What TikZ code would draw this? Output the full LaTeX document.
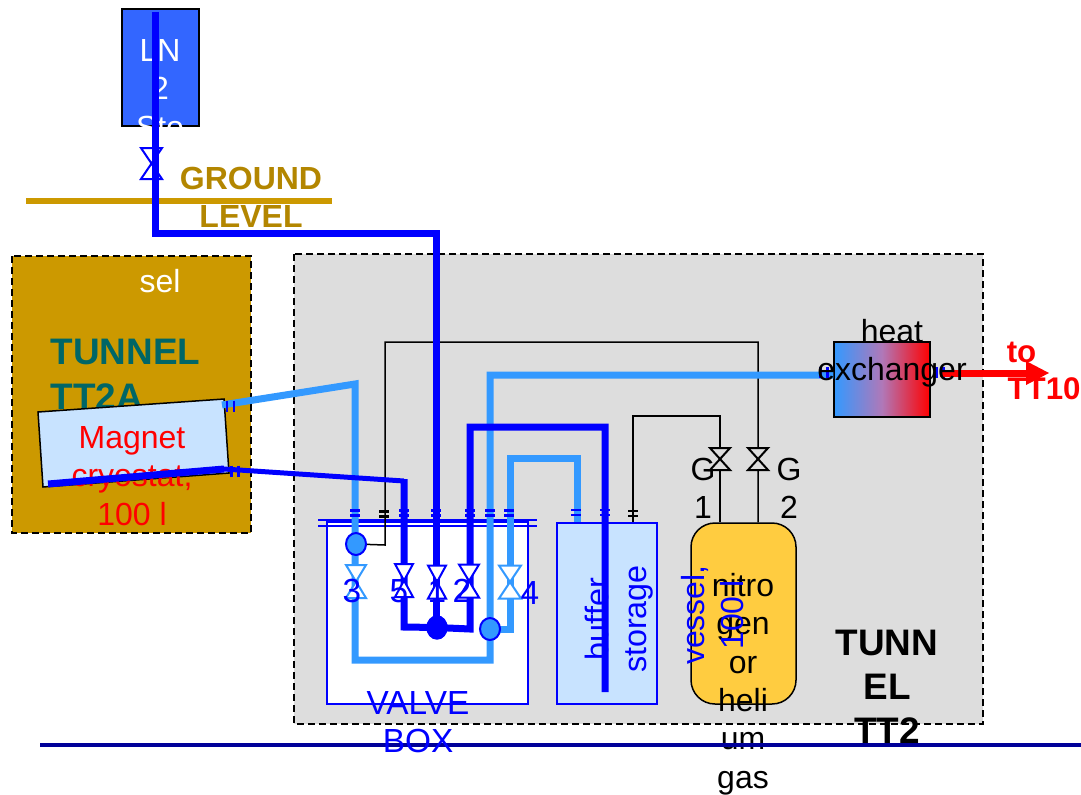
\documentclass[tikz,border=0pt]{standalone}
\usepackage{fontspec}
\setmainfont{Liberation Sans}
\usetikzlibrary{calc, shapes.geometric}
\definecolor{pipedark}{HTML}{0000FF}
\definecolor{pipelight}{HTML}{3399FF}
\definecolor{groundtan}{HTML}{CC9900}
\definecolor{groundtext}{HTML}{B38600}
\definecolor{tunnelgrey}{HTML}{DDDDDD}
\definecolor{tunnelteal}{HTML}{006666}
\definecolor{paleblue}{HTML}{C8E3FF}
\definecolor{vesselyellow}{HTML}{FFCC40}
\definecolor{storeblue}{HTML}{3366FF}
\definecolor{linenavy}{HTML}{000099}
\definecolor{hxmiddle}{HTML}{B078B8}
\tikzset{
    label30/.style={font=\fontsize{9.1}{10.9}\selectfont, align=center, inner sep=0},
    label33/.style={font=\fontsize{9.5}{10.9}\selectfont, align=center, inner sep=0},
    bold30/.style={font=\fontsize{9.1}{10.9}\selectfont\bfseries, align=center, inner sep=0},
    boldred/.style={font=\fontsize{8.9}{10.9}\selectfont\bfseries, text=red, inner sep=0},
    bold36/.style={font=\fontsize{10.5}{12.6}\selectfont\bfseries, inner sep=0},
    pipeD/.style={draw=pipedark, line width=0.07cm, line join=miter},
    pipeL/.style={draw=pipelight, line width=0.07cm, line join=miter},
    thinline/.style={draw=black, line width=0.015cm},
    dashbox/.style={draw=black, line width=0.014cm, dash pattern=on 0.07cm off 0.04cm},
    bluebox/.style={draw=pipedark, line width=0.018cm, inner sep=0},
    jointL/.style={draw=pipedark, line width=0.02cm, fill=pipelight, ellipse, minimum width=0.2cm, minimum height=0.22cm, inner sep=0},
    jointD/.style={draw=pipedark, fill=pipedark, ellipse, minimum width=0.2cm, minimum height=0.23cm, inner sep=0},
}
% valve: x, y, half width, half height, options
\newcommand{\valve}[5]{
    \filldraw [#5, line width=0.02cm] (#1-#3,#2-#4) -- (#1+#3,#2-#4) -- (#1-#3,#2+#4) -- (#1+#3,#2+#4) -- cycle;
}
% flange marks over a pipe, across or along
\newcommand{\flange}[3]{
    \draw [#3, line width=0.024cm] (#1-0.05,#2-0.025) -- (#1+0.05,#2-0.025) (#1-0.05,#2+0.025) -- (#1+0.05,#2+0.025);
}
\newcommand{\flangeup}[3]{
    \draw [draw=pipedark, line width=0.024cm] (#1-0.035,#2-#3) -- (#1-0.035,#2+#3) (#1+0.035,#2-#3) -- (#1+0.035,#2+#3);
}
\begin{document}
\begin{tikzpicture}[y=-1cm]
    \useasboundingbox (0,0) rectangle (10.81,7.94);
    % tunnels
    \filldraw [dashbox, fill=groundtan] (0.12,2.56) rectangle (2.51,5.33);
    \filldraw [dashbox, fill=tunnelgrey] (2.94,2.54) rectangle (9.83,7.24);
    \node [label30, text=white] (sel) at (1.60,2.81) {sel};
    \node [bold36, text=tunnelteal, anchor=west] (tta) at (0.50,3.52) {TUNNEL};
    \node [bold36, text=tunnelteal, anchor=west] (ttb) at (0.50,3.97) {TT2A};
    % storage on the surface
    \node [draw=black, line width=0.015cm, fill=storeblue, minimum width=0.77cm, minimum height=1.17cm, inner sep=0] (store) at (1.605,0.675) {};
    \begin{scope}
        \clip (store.south west) rectangle (store.north east);
        \node [label30, text=white] (storetext) at (1.60,0.89) {LN\\2\\Sto};
    \end{scope}
    \coordinate (gl) at (0.26,2.01);
    \coordinate (gr) at (3.32,2.01);
    \draw [draw=groundtan, line width=0.06cm] (gl) -- (gr);
    \node [bold30, text=groundtext] (ground) at (2.51,1.97) {GROUND\\LEVEL};
    \valve{1.515}{1.635}{0.105}{0.155}{draw=pipedark, fill=none}
    % cryostat
    \filldraw [draw=black, line width=0.015cm, fill=paleblue] (0.38,4.12) coordinate (ca) -- (2.24,3.99) coordinate (cb) -- (2.29,4.73) coordinate (cc) -- (0.43,4.87) coordinate (cd) -- cycle;
    \node [label30, text=red] (magnet) at (1.32,4.76) {Magnet\\cryostat,\\100 l};
    % boxes
    \node [bluebox, fill=white, minimum width=2.01cm, minimum height=1.82cm] (valvecase) at (4.275,6.13) {};
    \draw [draw=pipedark, line width=0.02cm] (3.18,5.20) -- (5.37,5.20) (3.18,5.26) -- (5.37,5.26);
    \node [bluebox, fill=paleblue, minimum width=1.00cm, minimum height=1.81cm] (buffercase) at (6.07,6.135) {};
    \node [label30, text=pipedark, rotate=90, font=\fontsize{9.2}{10.9}\selectfont] (buffer) at (6.19,6.19) {buffer\\storage};
    \node [draw=black, line width=0.015cm, fill=vesselyellow, rounded corners=0.24cm, minimum width=1.05cm, minimum height=1.81cm, inner sep=0] (vessel) at (7.435,6.135) {};
    \node [draw=black, line width=0.015cm, left color=pipelight, right color=red, middle color=hxmiddle, minimum width=0.96cm, minimum height=0.75cm, inner sep=0] (hx) at (8.82,3.795) {};
    % joints of the pipes
    \coordinate (jthree) at (3.56,5.44);
    \coordinate (jone) at (4.37,6.275);
    \coordinate (jfour) at (4.90,6.29);
    \coordinate (jcorner) at (3.55,3.84);
    % thin gas lines
    \draw [thinline] (jthree) -- (3.85,5.45) -- (3.85,3.42) -- (7.58,3.42) -- (vessel.north -| 7.58,0);
    \draw [thinline] (buffercase.north -| 6.33,0) -- (6.33,4.16) -- (7.20,4.16) -- (vessel.north -| 7.20,0);
    \valve{7.20}{4.59}{0.10}{0.11}{draw=black, fill=tunnelgrey}
    \valve{7.58}{4.59}{0.10}{0.11}{draw=black, fill=tunnelgrey}
    % light pipes
    \draw [pipeL] (2.22,4.05) -- (jcorner) -- (3.55,6.60) -- (4.90,6.60) -- (4.90,3.75) -- (hx.west |- 0,3.75);
    \draw [pipeL] (jfour) -- (5.10,6.29) -- (5.10,4.58) -- (5.77,4.58) -- (5.77,5.22);
    % dark pipes
    \draw [pipeD] (0.48,4.84) -- (2.24,4.69);
    \draw [draw=pipedark, line width=0.05cm] (2.24,4.69) -- (4.04,4.81);
    \draw [pipeD] (4.04,4.79) -- (4.04,6.27) -- (jone) -- (4.70,6.29) -- (4.70,4.27) -- (6.05,4.27) -- (6.05,6.92);
    \draw [pipeD] (1.55,0.12) -- (1.55,2.33) -- (4.36,2.33) -- (jone -| 4.36,0);
    % valves in the box
    \valve{3.56}{5.815}{0.10}{0.165}{draw=pipelight, fill=white}
    \valve{4.04}{5.805}{0.09}{0.165}{draw=pipedark, fill=white}
    \valve{4.37}{5.82}{0.09}{0.165}{draw=pipedark, fill=white}
    \valve{4.69}{5.81}{0.10}{0.165}{draw=pipedark, fill=white}
    \valve{5.10}{5.82}{0.11}{0.165}{draw=pipelight, fill=white}
    % joints
    \node [jointL] (nodethree) at (jthree) {};
    \node [jointD] (nodeone) at (jone) {};
    \node [jointL] (nodefour) at (jfour) {};
    % flanges
    \foreach \fx in {3.55,4.04,4.36,4.70,4.90,5.09}
        \flange{\fx}{5.13}{pipedark};
    \flange{3.84}{5.14}{black}
    \flange{5.76}{5.125}{pipedark}
    \flange{6.05}{5.125}{pipedark}
    \flange{6.33}{5.135}{black}
    \flangeup{2.305}{4.06}{0.055}
    \flangeup{2.35}{4.71}{0.055}
    \flangeup{8.24}{3.725}{0.055}
    \flangeup{9.40}{3.725}{0.055}
    % valve numbers
    \node [label33, text=pipedark] (nthree) at (3.52,5.91) {3};
    \node [label33, text=pipedark] (nfive) at (3.99,5.91) {5};
    \node [label33, text=pipedark] (none) at (4.37,5.91) {1};
    \node [label33, text=pipedark] (ntwo) at (4.62,5.91) {2};
    \node [label33, text=pipedark] (nfour) at (5.30,5.93) {4};
    % vessel text
    \node [label30] (vesseltext) at (7.43,6.84) {nitro\\gen\\or\\heli\\um\\gas};
    \node [label30, text=pipedark, rotate=90] (vesselcap) at (7.125,6.15) {vessel,\\100 l};
    \node [label30] (gone) at (7.03,4.88) {G\\1};
    \node [label30] (gtwo) at (7.89,4.88) {G\\2};
    \node [bold36, align=center] (tt2) at (8.87,6.87) {TUNN\\EL\\TT2};
    % heat exchanger
    \coordinate (hxout) at (9.40,3.73);
    \coordinate (hxend) at (10.30,3.73);
    \draw [draw=red, line width=0.07cm] (hxout) -- (hxend);
    \fill [red] (10.49,3.73) -- (10.26,3.61) -- (10.26,3.85) -- cycle;
    \node [label30] (heat) at (8.92,3.53) {heat\\exchanger};
    \node [boldred] (to) at (10.215,3.52) {to};
    \node [boldred] (ttten) at (10.44,3.89) {TT10};
    \coordinate (bl) at (0.40,7.45);
    \coordinate (br) at (10.81,7.45);
    \draw [draw=linenavy, line width=0.04cm] (bl) -- (br);
    \node [label33, text=pipedark] (valvebox) at (4.18,7.22) {VALVE\\BOX};
\end{tikzpicture}
\end{document}
